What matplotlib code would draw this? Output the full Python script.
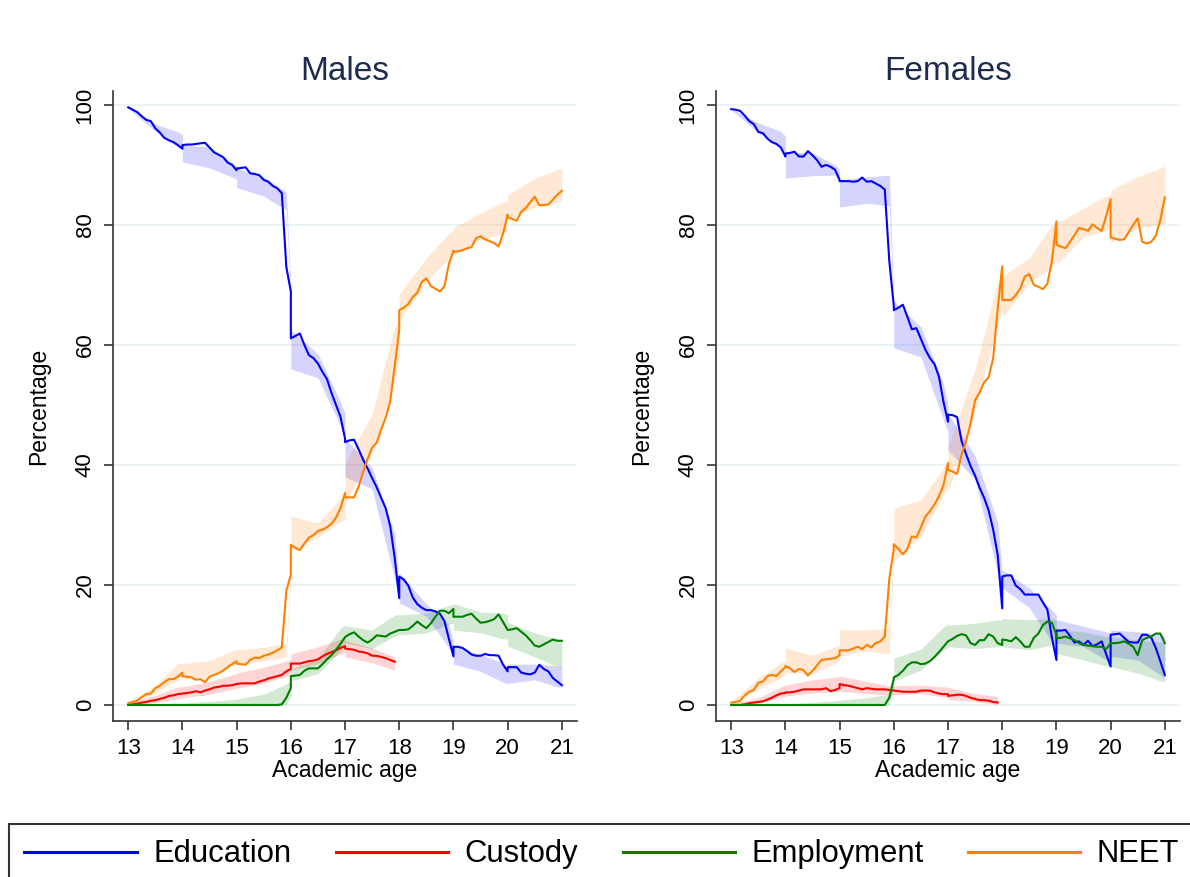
import matplotlib
matplotlib.use("Agg")
import matplotlib.pyplot as plt
from matplotlib.lines import Line2D
import numpy as np

plt.rcParams['font.family'] = ['Liberation Sans', 'DejaVu Sans']

# monthly points, one block of 13 per academic year (13..20), year end repeated as next start
age = np.concatenate([y + np.arange(13) / 12 for y in range(13, 21)])
# confidence bands: start, middle, last month, end of every year
band_age = np.concatenate([[y, y + 0.5, y + 11 / 12, y + 1] for y in range(13, 21)])

# ---- Males ----
males_edu = [
    99.6, 99.2, 98.8, 98.1, 97.5, 97.3, 96.1, 95.4, 94.5, 94.1, 93.8, 93.3, 92.7,
    93.3, 93.4, 93.4, 93.5, 93.6, 93.7, 92.9, 92.1, 91.7, 91.3, 90.4, 90.0, 89.1,
    89.4, 89.5, 89.6, 88.6, 88.5, 88.3, 87.5, 87.2, 86.5, 86.1, 85.3, 73.0, 68.9,
    61.1, 61.5, 61.9, 60.0, 58.3, 57.8, 56.9, 55.5, 54.3, 52.0, 50.0, 48.0, 44.4,
    43.8, 44.1, 44.2, 42.6, 40.9, 39.4, 37.8, 36.3, 34.5, 32.8, 29.8, 24.5, 17.8,
    21.4, 20.9, 19.9, 17.9, 16.8, 16.2, 15.8, 15.8, 15.6, 15.2, 14.0, 11.0, 8.1,
    9.7, 9.7, 9.5, 9.0, 8.4, 8.2, 8.2, 8.5, 8.3, 8.3, 8.2, 6.7, 5.6,
    6.3, 6.3, 6.3, 5.4, 5.2, 5.1, 5.4, 6.7, 6.0, 5.6, 4.5, 3.9, 3.3]
males_cust = [
    0.0, 0.1, 0.2, 0.4, 0.5, 0.7, 0.8, 1.0, 1.2, 1.5, 1.6, 1.8, 1.9,
    1.9, 2.0, 2.1, 2.3, 2.1, 2.4, 2.6, 2.9, 3.0, 3.2, 3.2, 3.3, 3.5,
    3.5, 3.6, 3.6, 3.6, 3.6, 3.9, 4.1, 4.4, 4.6, 4.8, 5.0, 5.6, 6.0,
    6.9, 6.9, 6.9, 7.1, 7.3, 7.4, 7.6, 8.1, 8.5, 8.8, 9.1, 9.5, 9.8,
    9.4, 9.3, 9.2, 8.9, 8.8, 8.6, 8.2, 8.2, 8.0, 7.8, 7.5, 7.2]
males_emp = [
    0, 0, 0, 0, 0, 0, 0, 0, 0, 0, 0, 0, 0,
    0, 0, 0, 0, 0, 0, 0, 0, 0, 0, 0, 0, 0,
    0, 0, 0, 0, 0, 0, 0, 0, 0, 0, 0.1, 1.2, 2.8,
    4.8, 4.9, 5.0, 5.7, 6.1, 6.1, 6.1, 6.8, 7.6, 8.3, 9.2, 10.2, 11.3,
    11.3, 11.8, 12.1, 11.4, 10.8, 10.4, 10.9, 11.6, 11.5, 11.4, 11.9, 12.2, 12.5,
    12.5, 12.5, 12.6, 13.2, 13.9, 13.3, 12.8, 13.6, 14.7, 15.7, 15.7, 15.3, 16.0,
    14.7, 14.7, 14.7, 15.0, 15.2, 14.4, 13.7, 13.8, 14.0, 14.3, 15.1, 13.8, 12.5,
    12.5, 12.6, 12.8, 12.2, 11.6, 10.8, 9.9, 9.7, 10.1, 10.5, 10.9, 10.7, 10.7]
males_neet = [
    0.3, 0.5, 0.7, 1.3, 1.8, 1.9, 2.8, 3.2, 3.8, 4.3, 4.3, 4.7, 5.4,
    4.8, 4.7, 4.6, 4.2, 4.3, 3.8, 4.7, 5.0, 5.3, 5.7, 6.3, 6.8, 7.3,
    6.9, 6.8, 6.7, 7.5, 7.9, 7.8, 8.2, 8.4, 8.7, 9.1, 9.6, 19.0, 21.7,
    26.7, 26.2, 25.8, 26.9, 27.9, 28.3, 29.0, 29.2, 29.6, 30.2, 31.2, 32.8, 35.3,
    34.6, 34.6, 34.6, 36.4, 38.8, 41.0, 42.9, 43.7, 45.9, 47.9, 50.6, 56.5, 62.5,
    65.8, 66.2, 66.8, 68.0, 68.7, 70.5, 71.1, 69.8, 69.4, 68.9, 69.8, 73.5, 75.7,
    75.5, 75.6, 75.8, 76.1, 76.3, 77.8, 78.1, 77.6, 77.3, 77.0, 76.4, 78.6, 81.7,
    81.3, 81.0, 80.7, 82.2, 82.8, 83.8, 84.7, 83.3, 83.3, 83.4, 84.2, 85.0, 85.7]

males_edu_lo = [99.4, 95.6, 93.0, 92.6, 90.5, 89.5, 88.0, 87.6, 86.2, 84.8, 82.5, 68.0,
                56.0, 54.5, 46.5, 44.0, 38.0, 36.0, 21.0, 17.5, 17.0, 14.8, 9.5, 8.0,
                6.8, 5.6, 3.8, 3.5, 3.6, 4.2, 3.0, 3.0]
males_edu_hi = [99.8, 96.8, 95.5, 95.0, 93.3, 93.0, 90.4, 89.8, 89.5, 88.0, 85.5, 70.0,
                62.5, 58.5, 50.5, 48.5, 44.5, 39.5, 28.5, 19.0, 22.0, 16.8, 13.5, 10.5,
                9.9, 8.4, 7.0, 6.0, 6.8, 6.8, 6.5, 6.4]
males_cust_lo = [0.0, 0.4, 1.0, 1.1, 1.2, 1.8, 2.6, 2.7, 2.8, 3.6, 4.8, 5.0,
                 5.8, 6.9, 8.5, 8.7, 8.0, 7.0, 5.8]
males_cust_hi = [0.3, 1.6, 3.0, 3.1, 3.0, 3.9, 5.0, 5.2, 5.3, 6.3, 7.3, 7.6,
                 8.5, 9.7, 11.0, 11.1, 10.8, 9.5, 8.0]
males_emp_lo = [0, 0, 0, 0, 0, 0, 0, 0, 0, 0, 0, 1.5,
                4.0, 5.2, 9.0, 9.8, 10.3, 9.4, 11.5, 11.7, 11.7, 12.0, 13.5, 13.6,
                12.5, 12.0, 11.0, 11.0, 9.8, 8.0, 6.4, 6.3]
males_emp_hi = [0, 0.15, 0.3, 0.3, 0.3, 0.6, 0.9, 1.0, 1.0, 1.8, 3.5, 4.0,
                6.0, 7.6, 12.8, 13.3, 13.2, 12.5, 15.0, 15.0, 15.0, 15.3, 16.6, 16.7,
                16.9, 15.5, 15.3, 15.0, 13.8, 12.0, 11.0, 10.8]
males_neet_lo = [0.3, 2.0, 4.2, 4.6, 4.4, 4.6, 6.5, 6.8, 6.7, 7.3, 8.0, 20.5,
                 25.5, 28.0, 30.5, 31.0, 33.5, 42.0, 54.0, 58.0, 64.0, 70.5, 74.5, 75.0,
                 75.0, 77.5, 78.5, 79.0, 80.8, 83.0, 83.8, 84.0]
males_neet_hi = [0.5, 3.2, 6.9, 6.9, 6.9, 7.4, 9.0, 9.2, 9.2, 9.6, 10.3, 22.5,
                 31.5, 30.3, 34.5, 36.0, 40.3, 48.5, 63.0, 64.0, 68.5, 74.5, 78.6, 79.0,
                 79.5, 82.0, 83.8, 84.0, 85.0, 87.8, 89.2, 89.4]

# ---- Females ----
females_edu = [
    99.3, 99.2, 99.0, 98.2, 97.3, 96.8, 95.5, 95.3, 94.4, 93.8, 93.5, 92.9, 91.4,
    91.9, 92.0, 92.2, 91.4, 91.4, 92.3, 91.6, 90.8, 89.7, 90.0, 89.7, 89.2, 87.5,
    87.3, 87.3, 87.3, 87.2, 87.3, 87.9, 87.2, 87.3, 86.9, 86.5, 85.9, 74.0, 66.5,
    65.8, 66.2, 66.7, 64.7, 62.6, 62.8, 61.0, 59.2, 57.8, 56.8, 54.7, 50.5, 47.2,
    48.4, 48.3, 48.0, 44.0, 41.8, 39.8, 38.2, 36.2, 34.5, 32.4, 29.2, 25.0, 16.1,
    21.4, 21.6, 21.6, 19.9, 19.3, 18.4, 18.4, 18.4, 18.4, 17.1, 15.9, 11.2, 7.5,
    12.4, 12.4, 12.5, 11.5, 10.4, 10.6, 10.0, 10.7, 9.8, 10.1, 10.6, 8.5, 6.4,
    11.7, 11.8, 11.9, 11.2, 10.5, 10.4, 10.4, 11.7, 11.7, 11.2, 9.5, 7.3, 5.0]
females_cust = [
    0.0, 0.0, 0.0, 0.1, 0.3, 0.4, 0.5, 0.6, 0.9, 1.2, 1.6, 1.9, 2.0,
    2.1, 2.1, 2.2, 2.4, 2.6, 2.6, 2.6, 2.6, 2.6, 2.8, 2.3, 2.5, 2.8,
    3.5, 3.3, 3.2, 3.0, 2.8, 2.6, 2.8, 2.7, 2.6, 2.6, 2.6, 2.5, 2.4,
    2.4, 2.3, 2.2, 2.2, 2.2, 2.2, 2.4, 2.4, 2.4, 2.1, 1.9, 1.8, 1.8,
    1.5, 1.6, 1.7, 1.7, 1.5, 1.2, 1.0, 0.8, 0.8, 0.7, 0.5, 0.4]
females_emp = [
    0, 0, 0, 0, 0, 0, 0, 0, 0, 0, 0, 0, 0,
    0, 0, 0, 0, 0, 0, 0, 0, 0, 0, 0, 0, 0,
    0, 0, 0, 0, 0, 0, 0, 0, 0, 0, 0, 1.2, 4.4,
    4.6, 5.0, 5.7, 6.6, 7.1, 7.1, 6.8, 6.9, 7.3, 8.0, 8.8, 9.7, 10.6,
    10.6, 11.0, 11.5, 11.8, 11.6, 10.3, 10.0, 10.8, 10.8, 11.8, 11.4, 10.3, 10.0,
    10.9, 10.8, 10.6, 11.3, 10.6, 9.7, 9.7, 11.2, 11.9, 13.3, 13.9, 13.7, 11.7,
    11.1, 11.2, 11.4, 11.1, 10.8, 10.3, 10.0, 9.9, 9.8, 9.7, 9.7, 9.3, 10.3,
    10.3, 10.3, 10.4, 10.6, 10.2, 9.7, 8.3, 10.8, 11.2, 11.4, 11.9, 11.9, 10.3]
females_neet = [
    0.4, 0.5, 0.7, 1.6, 2.2, 2.5, 3.7, 3.9, 4.8, 5.0, 4.8, 5.6, 6.3,
    6.5, 6.1, 5.5, 6.0, 5.8, 4.9, 5.7, 6.6, 7.5, 7.6, 7.7, 7.8, 8.3,
    9.1, 9.1, 9.1, 9.4, 9.7, 9.3, 10.0, 9.6, 10.3, 10.6, 11.4, 21.0, 26.0,
    26.8, 26.0, 25.1, 26.0, 28.1, 27.9, 29.6, 31.4, 32.3, 33.4, 34.8, 36.6, 40.3,
    39.2, 38.9, 38.5, 41.7, 44.0, 46.9, 50.8, 52.1, 53.8, 54.6, 57.8, 66.0, 73.1,
    67.5, 67.5, 67.5, 68.3, 69.4, 71.4, 71.8, 70.0, 69.7, 69.3, 70.2, 74.0, 80.6,
    76.7, 76.4, 76.1, 77.2, 78.3, 79.5, 79.3, 79.0, 80.1, 79.5, 79.0, 81.4, 84.3,
    77.9, 77.7, 77.5, 77.6, 78.8, 80.0, 81.1, 77.2, 76.9, 77.2, 78.2, 80.8, 84.6]

females_edu_lo = [99.2, 95.4, 92.9, 91.5, 87.8, 88.2, 88.3, 87.5, 83.0, 83.6, 83.2, 65.0,
                  59.5, 58.0, 47.5, 45.5, 42.5, 37.5, 22.0, 16.0, 19.5, 16.2, 10.5, 9.5,
                  10.3, 9.7, 7.5, 7.0, 8.1, 7.5, 5.0, 4.5]
females_edu_hi = [99.4, 97.0, 95.6, 94.8, 92.2, 92.0, 90.0, 89.2, 87.5, 88.0, 88.3, 67.0,
                  67.3, 63.0, 53.5, 50.0, 48.6, 41.5, 30.5, 22.0, 22.5, 19.5, 15.8, 15.0,
                  14.2, 13.1, 12.2, 12.0, 12.5, 12.2, 11.8, 11.4]
females_cust_lo = [0.0, 0.3, 1.2, 1.4, 1.5, 2.0, 2.2, 2.3, 2.3, 1.9, 1.7, 1.7,
                   1.7, 1.9, 1.3, 1.2, 0.9, 0.6, 0.0]
females_cust_hi = [0.2, 1.2, 3.0, 3.3, 3.3, 4.2, 4.6, 4.8, 4.8, 3.9, 3.2, 3.1,
                   3.2, 3.3, 3.0, 3.0, 2.9, 1.9, 1.4]
females_emp_lo = [0, 0, 0, 0, 0, 0, 0, 0, 0, 0, 0, 3.0,
                  4.0, 5.8, 9.2, 9.5, 9.7, 9.4, 9.7, 9.8, 9.7, 9.2, 10.0, 10.0,
                  8.6, 7.5, 6.5, 6.4, 6.4, 5.3, 4.0, 3.9]
females_emp_hi = [0, 0.1, 0.2, 0.2, 0.2, 0.4, 0.7, 0.8, 0.8, 1.2, 1.8, 5.0,
                  7.8, 9.3, 13.0, 13.5, 13.3, 13.6, 14.2, 14.2, 14.4, 14.2, 14.4, 14.2,
                  12.5, 12.2, 11.4, 11.4, 11.4, 10.8, 10.5, 10.3]
females_neet_lo = [0.3, 2.6, 4.5, 5.0, 5.4, 5.2, 6.9, 7.5, 8.1, 9.0, 8.5, 24.0,
                   24.0, 28.0, 35.0, 36.5, 35.5, 49.0, 63.5, 66.0, 64.5, 70.3, 73.0, 74.0,
                   73.3, 78.0, 79.0, 79.5, 77.0, 79.5, 80.0, 80.3]
females_neet_hi = [0.6, 4.5, 7.0, 7.3, 9.5, 8.3, 9.7, 10.0, 12.5, 12.5, 12.8, 27.0,
                   32.8, 34.2, 39.5, 41.0, 43.0, 56.0, 70.5, 71.0, 71.4, 74.5, 80.0, 80.6,
                   80.3, 82.8, 84.8, 85.0, 85.8, 88.0, 89.5, 89.8]

labels = ["Education", "Custody", "Employment", "NEET"]
colors = ["#0000FF", "#FF0000", "#008000", "#FF8000"]

males = [(males_edu, males_edu_lo, males_edu_hi),
         (males_cust, males_cust_lo, males_cust_hi),
         (males_emp, males_emp_lo, males_emp_hi),
         (males_neet, males_neet_lo, males_neet_hi)]
females = [(females_edu, females_edu_lo, females_edu_hi),
           (females_cust, females_cust_lo, females_cust_hi),
           (females_emp, females_emp_lo, females_emp_hi),
           (females_neet, females_neet_lo, females_neet_hi)]


def draw_panel(ax, title, series):
    for (vals, lo, hi), col in zip(series, colors):
        ax.fill_between(band_age[:len(lo)], lo, hi, color=col, alpha=0.17,
                        linewidth=0, zorder=2)
    for (vals, lo, hi), col in zip(series, colors):
        ax.plot(age[:len(vals)], vals, color=col, lw=1.5, zorder=3)

    ax.set_xlim(12.72, 21.28)
    ax.set_ylim(-2.67, 102.33)
    ax.set_xticks(range(13, 22))
    ax.set_yticks(range(0, 101, 20))
    ax.tick_params(axis='x', labelsize=16, length=6.5, width=1.2, pad=6, color='#333333')
    ax.tick_params(axis='y', labelsize=16, length=6.5, width=1.2, pad=6, color='#333333',
                   labelrotation=90)
    for lab in ax.get_yticklabels():
        lab.set_verticalalignment('center')
    ax.grid(axis='y', color='#EAF2F3', lw=1.3, zorder=0)
    ax.set_axisbelow(True)
    for s in ['top', 'right']:
        ax.spines[s].set_visible(False)
    for s in ['left', 'bottom']:
        ax.spines[s].set_linewidth(1.2)
        ax.spines[s].set_color('#333333')
    ax.set_xlabel("Academic age", fontsize=16.5, labelpad=0)
    ax.set_ylabel("Percentage", fontsize=16.5, labelpad=18)
    ax.set_title(title, fontsize=24, color='#1C2B4F', pad=8)


fig = plt.figure(figsize=(11.9, 8.77), dpi=100)
ax1 = fig.add_axes([0.0950, 0.1779, 0.3899, 0.7184])
ax2 = fig.add_axes([0.6017, 0.1779, 0.3899, 0.7184])
draw_panel(ax1, "Males", males)
draw_panel(ax2, "Females", females)

handles = [Line2D([], [], color=c, lw=2.2) for c in colors]
leg = fig.legend(handles, labels, ncol=4, loc='upper left',
                 bbox_to_anchor=(9 / 1190, 1 - 824 / 877), fontsize=22.3,
                 handlelength=3.62, handletextpad=0.54, columnspacing=1.43,
                 borderpad=0.5, borderaxespad=0, fancybox=False)
leg.get_frame().set_edgecolor('black')
leg.get_frame().set_linewidth(1.5)

fig.savefig("out.png", dpi=100, facecolor='white')
